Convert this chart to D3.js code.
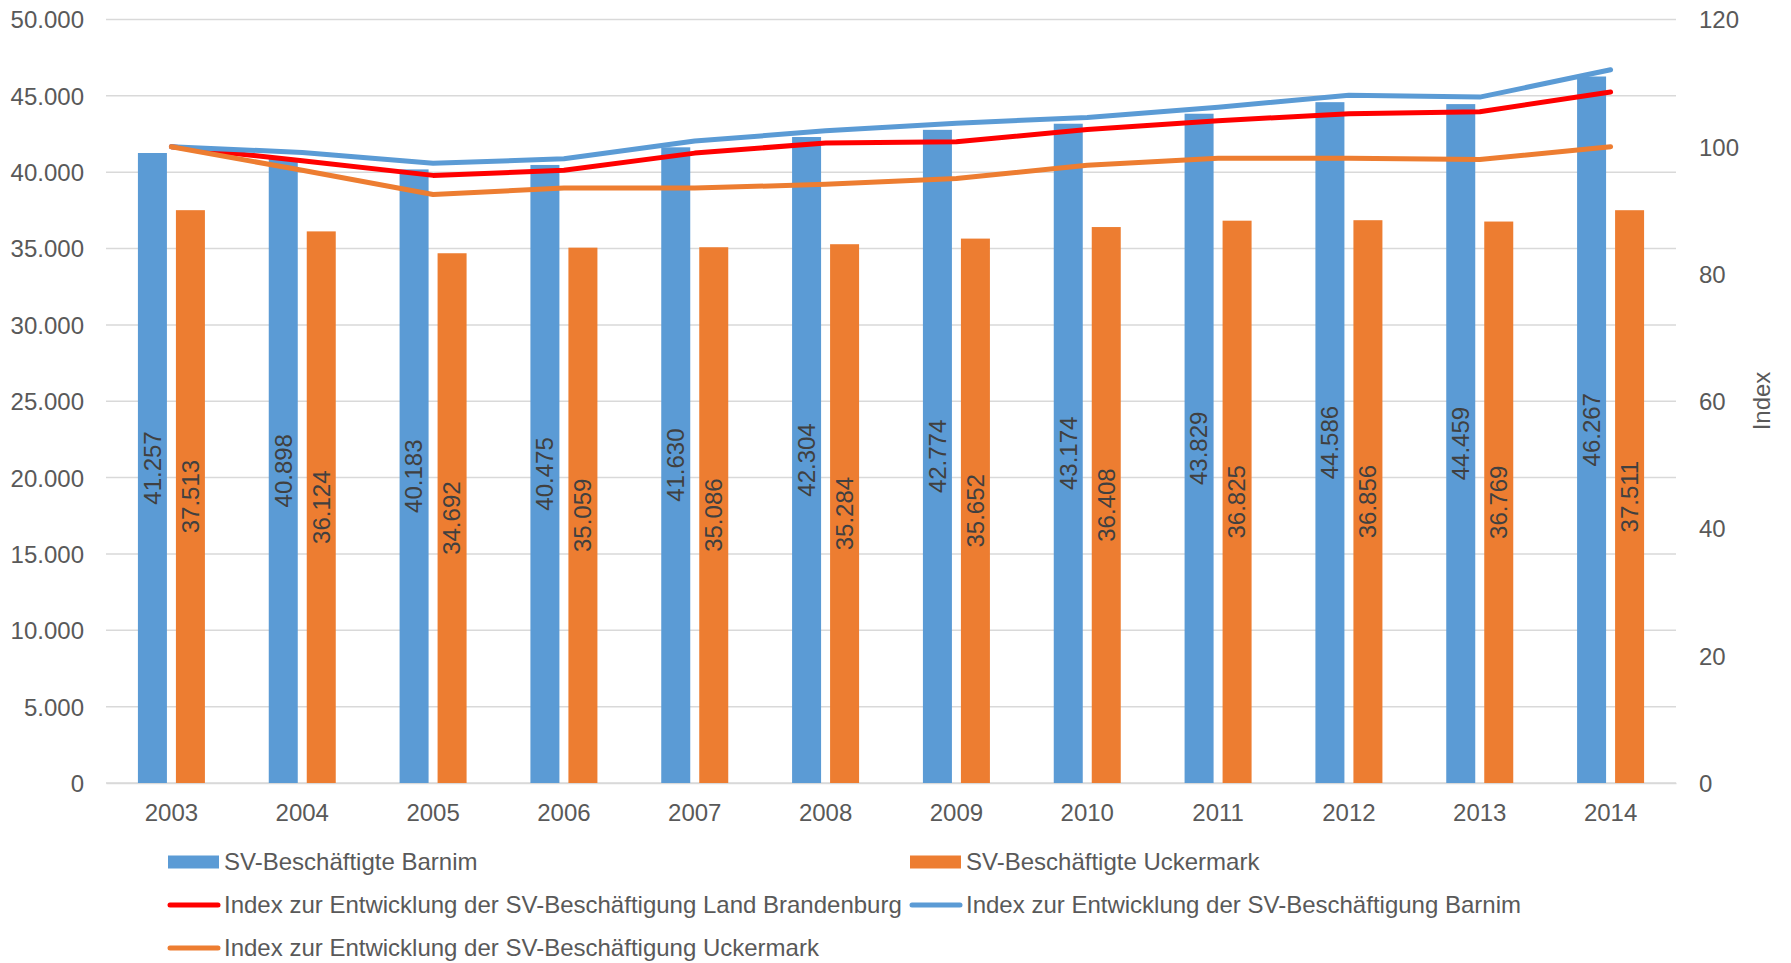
<!DOCTYPE html>
<html>
<head>
<meta charset="utf-8">
<script src="https://cdn.jsdelivr.net/npm/d3@7"></script>
<style>
  html, body { margin: 0; padding: 0; background: #fff; }
  svg { display: block; font-family: "Liberation Sans", Arial, sans-serif; }
</style>
</head>
<body>
<svg id="chart" width="1791" height="963"></svg>
<script>
const years = ["2003","2004","2005","2006","2007","2008","2009","2010","2011","2012","2013","2014"];
const barnim = [41257, 40898, 40183, 40475, 41630, 42304, 42774, 43174, 43829, 44586, 44459, 46267];
const uckermark = [37513, 36124, 34692, 35059, 35086, 35284, 35652, 36408, 36825, 36856, 36769, 37511];
const indexBrandenburg = [100, 97.8, 95.5, 96.3, 99.0, 100.6, 100.8, 102.7, 104.1, 105.2, 105.5, 108.6];
const indexBarnim = [100, 99.1, 97.4, 98.1, 100.9, 102.5, 103.7, 104.6, 106.2, 108.1, 107.8, 112.1];
const indexUckermark = [100, 96.3, 92.5, 93.5, 93.5, 94.1, 95.0, 97.1, 98.2, 98.2, 98.0, 100.0];
const leftTicks = [0, 5000, 10000, 15000, 20000, 25000, 30000, 35000, 40000, 45000, 50000];
const rightTicks = [0, 20, 40, 60, 80, 100, 120];
const seriesNames = [
  "SV-Beschäftigte Barnim",
  "SV-Beschäftigte Uckermark",
  "Index zur Entwicklung der SV-Beschäftigung Land Brandenburg",
  "Index zur Entwicklung der SV-Beschäftigung Barnim",
  "Index zur Entwicklung der SV-Beschäftigung Uckermark"
];

const C_BLUE = "#5b9bd5", C_ORANGE = "#ed7d31", C_RED = "#ff0000";
const TXT = "#595959", LBL = "#404040", GRID = "#d9d9d9";
const FS = 24;
const FF = '"Liberation Sans", Arial, sans-serif';

const de = d3.formatLocale({decimal: ",", thousands: ".", grouping: [3], currency: ["", " €"]});
const fmt = de.format(",d");

const svg = d3.select("#chart");
const m = {left: 106, right: 1676, top: 19.5, bottom: 783};

const x = d3.scaleBand().domain(years).range([m.left, m.right]).paddingInner(0).paddingOuter(0);
const y = d3.scaleLinear().domain([0, 50000]).range([m.bottom, m.top]);
const y2 = d3.scaleLinear().domain([0, 120]).range([m.bottom, m.top]);

// gridlines
svg.append("g").selectAll("line").data(leftTicks).join("line")
  .attr("x1", m.left).attr("x2", m.right)
  .attr("y1", d => y(d)).attr("y2", d => y(d))
  .attr("stroke", GRID).attr("stroke-width", 1.5);

// left axis
const yAxis = d3.axisLeft(y).tickValues(leftTicks).tickFormat(fmt).tickSize(0).tickPadding(0);
const gl = svg.append("g").attr("transform", `translate(${84},0)`).call(yAxis);
gl.select(".domain").remove();
gl.selectAll("text").attr("fill", TXT).attr("font-size", FS).attr("font-family", FF).attr("dy", "0.35em");

// right axis
const y2Axis = d3.axisRight(y2).tickValues(rightTicks).tickFormat(d3.format("d")).tickSize(0).tickPadding(0);
const gr = svg.append("g").attr("transform", `translate(${1699},0)`).call(y2Axis);
gr.select(".domain").remove();
gr.selectAll("text").attr("fill", TXT).attr("font-size", FS).attr("font-family", FF).attr("dy", "0.35em");

// x axis
const xAxis = d3.axisBottom(x).tickSize(0).tickPadding(0);
const gx = svg.append("g").attr("transform", `translate(0,${m.bottom})`).call(xAxis);
gx.select(".domain").attr("stroke", GRID).attr("stroke-width", 1.5);
gx.selectAll("text").attr("fill", TXT).attr("font-size", FS).attr("font-family", FF).attr("dy", "0").attr("y", 38);

// right axis title
svg.append("text")
  .attr("transform", `translate(${1770},${401}) rotate(-90)`)
  .attr("text-anchor", "middle")
  .attr("fill", TXT).attr("font-size", FS).text("Index");

// bars
const bw = 29, gap = 9;
const bars = svg.append("g");
bars.selectAll("rect.b").data(years).join("rect").attr("class", "b")
  .attr("x", d => x(d) + x.bandwidth() / 2 - gap / 2 - bw)
  .attr("width", bw)
  .attr("y", (d, i) => y(barnim[i]))
  .attr("height", (d, i) => y(0) - y(barnim[i]))
  .attr("fill", C_BLUE);
bars.selectAll("rect.u").data(years).join("rect").attr("class", "u")
  .attr("x", d => x(d) + x.bandwidth() / 2 + gap / 2)
  .attr("width", bw)
  .attr("y", (d, i) => y(uckermark[i]))
  .attr("height", (d, i) => y(0) - y(uckermark[i]))
  .attr("fill", C_ORANGE);

// bar labels
const labels = svg.append("g").attr("font-size", FS).attr("fill", LBL).attr("text-anchor", "middle");
labels.selectAll("text.b").data(years).join("text").attr("class", "b")
  .attr("transform", (d, i) => `translate(${x(d) + x.bandwidth() / 2 - gap / 2 - bw / 2},${(y(barnim[i]) + y(0)) / 2}) rotate(-90)`)
  .attr("dy", "0.35em")
  .text((d, i) => fmt(barnim[i]));
labels.selectAll("text.u").data(years).join("text").attr("class", "u")
  .attr("transform", (d, i) => `translate(${x(d) + x.bandwidth() / 2 + gap / 2 + bw / 2},${(y(uckermark[i]) + y(0)) / 2}) rotate(-90)`)
  .attr("dy", "0.35em")
  .text((d, i) => fmt(uckermark[i]));

// lines
const line = d3.line().x((d, i) => x(years[i]) + x.bandwidth() / 2).y(d => y2(d));
[[indexBrandenburg, C_RED], [indexBarnim, C_BLUE], [indexUckermark, C_ORANGE]].forEach(([data, col]) => {
  svg.append("path").datum(data).attr("d", line)
    .attr("fill", "none").attr("stroke", col).attr("stroke-width", 5)
    .attr("stroke-linecap", "round").attr("stroke-linejoin", "round");
});

// legend
const leg = svg.append("g").attr("font-size", FS).attr("fill", TXT);
const legItems = [
  {name: seriesNames[0], col: C_BLUE, type: "bar", x: 168, y: 862},
  {name: seriesNames[1], col: C_ORANGE, type: "bar", x: 910, y: 862},
  {name: seriesNames[2], col: C_RED, type: "line", x: 168, y: 905},
  {name: seriesNames[3], col: C_BLUE, type: "line", x: 910, y: 905},
  {name: seriesNames[4], col: C_ORANGE, type: "line", x: 168, y: 948}
];
legItems.forEach(it => {
  if (it.type === "bar") {
    leg.append("rect").attr("x", it.x).attr("y", it.y - 6.5).attr("width", 51).attr("height", 13).attr("fill", it.col);
  } else {
    leg.append("line").attr("x1", it.x + 2).attr("x2", it.x + 50).attr("y1", it.y).attr("y2", it.y)
      .attr("stroke", it.col).attr("stroke-width", 5).attr("stroke-linecap", "round");
  }
  leg.append("text").attr("x", it.x + 56).attr("y", it.y).attr("dy", "0.35em").text(it.name);
});
</script>
</body>
</html>
